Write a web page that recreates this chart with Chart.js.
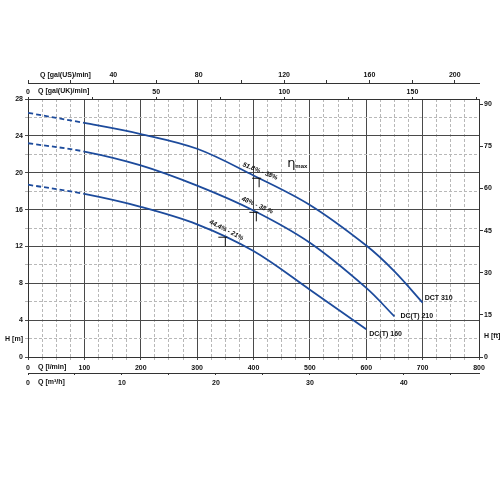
<!DOCTYPE html>
<html>
<head>
<meta charset="utf-8">
<script src="https://cdn.jsdelivr.net/npm/chart.js@4.4.1/dist/chart.umd.min.js"></script>
<style>
  html, body { margin: 0; padding: 0; background: #fff; }
  #wrap { width: 500px; height: 500px; }
</style>
</head>
<body>
<div id="wrap"><canvas id="pumpChart"></canvas></div>
<script>
// PUMP CURVES - flow in l/min, head in m

const flowDct310 = [0, 100, 200, 300, 400, 500, 600, 650, 700];
const headDct310 = [26.5, 25.4, 24.2, 22.6, 19.7, 16.5, 12.1, 9.3, 5.9];
const flowDc210 = [0, 100, 200, 300, 400, 500, 600, 650];
const headDc210 = [23.2, 22.3, 20.8, 18.6, 15.9, 12.4, 7.5, 4.4];
const flowDc160 = [0, 100, 200, 300, 400, 500, 600];
const headDc160 = [18.7, 17.7, 16.3, 14.4, 11.5, 7.3, 3.0];
const curveNames = ['DCT 310', 'DC(T) 210', 'DC(T) 160'];

// best efficiency marks on each curve
const effFlow = [410, 405, 350];
const effHead = [19.4, 15.7, 13.0];
const effText = ['51.8% - 38%', '48% - 38 %', '44.4% - 21%'];

// tick labels of the different axes
const lpmLabels = [0, 100, 200, 300, 400, 500, 600, 700, 800];
const m3hLabels = [0, 10, 20, 30, 40];
const usLabels = [40, 80, 120, 160, 200];
const ukLabels = [0, 50, 100, 150];
const headLabels = [0, 4, 8, 12, 16, 20, 24, 28];
const ftLabels = [0, 15, 30, 45, 60, 75, 90];

// unit conversions (all secondary axes follow l/min and m)
const LPM_MAX = 800;
const H_MAX = 28;
const usGalMax = LPM_MAX / 3.78541;
const ukGalMax = LPM_MAX / 4.54609;
const m3hMax = LPM_MAX / 16.6667;
const ftMax = H_MAX * 3.28084;

const BLUE = '#1d4b9c';
const FONT = { family: '"Liberation Sans", Arial, sans-serif', size: 7, weight: 'bold' };

function toPoints(xs, ys) {
  return xs.map((q, i) => ({ x: q, y: ys[i] }));
}

function curve(xs, ys) {
  return {
    data: toPoints(xs, ys),
    borderColor: BLUE,
    borderWidth: 1.8,
    pointRadius: 0,
    tension: 0.35,
    fill: false,
    xAxisID: 'x',
    yAxisID: 'y',
    segment: {
      // start of the curves is dashed
      borderDash: c => c.p0.parsed.x < 100 ? [5, 3] : undefined
    }
  };
}

// major lines solid, minor lines dashed and light
function gridColor(step) {
  return c => (c.tick && Math.abs(c.tick.value % step) < 1e-6) ? '#4a4a4a' : '#b8b8b8';
}
function gridDash(step) {
  return c => (c.tick && Math.abs(c.tick.value % step) > 1e-6) ? [3, 2] : [];
}
function labelFrom(list) {
  return v => list.includes(v) ? String(v) : '';
}

// extra texts: axis names, curve names, efficiency marks
const extraText = {
  id: 'extraText',
  afterDraw(chart) {
    const { ctx, scales } = chart;
    const x = scales.x, y = scales.y;
    ctx.save();
    ctx.fillStyle = '#111';
    ctx.strokeStyle = '#111';
    ctx.font = 'bold 7px "Liberation Sans", Arial, sans-serif';
    ctx.textBaseline = 'middle';
    ctx.textAlign = 'left';

    ctx.fillText('Q [gal(US)/min]', x.left + 12, scales.xUs.bottom - 8);
    ctx.fillText('Q [gal(UK)/min]', x.left + 10, scales.xUk.bottom - 7.5);
    ctx.fillText('Q [l/min]', x.left + 10, x.top + 10.5);
    ctx.fillText('Q [m\u00b3/h]', x.left + 10, scales.xM3h.top + 9.5);

    // curve names at the end of each curve
    const ends = [
      [flowDct310, headDct310, 2, -5],
      [flowDc210, headDc210, 6, 0],
      [flowDc160, headDc160, 3, 5]
    ];
    ends.forEach((e, i) => {
      const n = e[0].length - 1;
      const px = x.getPixelForValue(e[0][n]);
      const py = y.getPixelForValue(e[1][n]);
      ctx.fillText(curveNames[i], px + e[2], py + e[3]);
    });

    // efficiency marks
    const angles = [22, 24, 27];
    effFlow.forEach((q, i) => {
      const px = x.getPixelForValue(q);
      const py = y.getPixelForValue(effHead[i]);
      ctx.lineWidth = 1;
      ctx.beginPath();
      ctx.moveTo(px - 7, py);
      ctx.lineTo(px + 2, py);
      ctx.moveTo(px, py);
      ctx.lineTo(px, py + 9);
      ctx.stroke();
      ctx.save();
      ctx.translate(px + 1, py - 7);
      ctx.rotate(angles[i] * Math.PI / 180);
      ctx.textAlign = 'center';
      ctx.font = 'italic bold 6.5px "Liberation Sans", Arial, sans-serif';
      ctx.fillText(effText[i], 0, 0);
      ctx.restore();
    });

    // eta max
    const ex = x.getPixelForValue(460);
    const ey = y.getPixelForValue(21);
    ctx.font = '13px "DejaVu Sans", sans-serif';
    ctx.fillText('\u03b7', ex, ey);
    ctx.font = 'bold 6px "Liberation Sans", Arial, sans-serif';
    ctx.fillText('max', ex + 8, ey + 3);
    ctx.restore();
  }
};

const whiteBg = {
  id: 'whiteBg',
  beforeDraw(chart) {
    const ctx = chart.ctx;
    ctx.save();
    ctx.fillStyle = '#fff';
    ctx.fillRect(0, 0, chart.width, chart.height);
    ctx.restore();
  }
};

var ctx = document.getElementById('pumpChart').getContext('2d');
var pumpChart = new Chart(ctx, {
  type: 'line',
  data: {
    datasets: [
      curve(flowDct310, headDct310),
      curve(flowDc210, headDc210),
      curve(flowDc160, headDc160)
    ]
  },
  options: {
    responsive: true,
    maintainAspectRatio: false,
    animation: false,
    layout: {
      padding: { top: 70, bottom: 110, left: 0, right: 0 }
    },
    plugins: {
      legend: { display: false },
      tooltip: { enabled: false }
    },
    scales: {
      x: {
        type: 'linear', position: 'bottom', weight: 0,
        min: 0, max: LPM_MAX,
        ticks: { stepSize: 25, autoSkip: false, maxRotation: 0, padding: 4, color: '#111', font: FONT, callback: labelFrom(lpmLabels) },
        grid: { color: gridColor(100), tickLength: 3, lineWidth: 1 },
        border: { color: '#333', width: 1, dash: gridDash(100) },
        afterFit: s => { s.height = 16; }
      },
      xM3h: {
        type: 'linear', position: 'bottom', weight: 1,
        min: 0, max: m3hMax,
        ticks: { stepSize: 5, includeBounds: false, autoSkip: false, maxRotation: 0, padding: 4, color: '#111', font: FONT, callback: labelFrom(m3hLabels) },
        grid: { drawOnChartArea: false, tickLength: 2, color: '#333' },
        border: { color: '#333', width: 1 },
        afterFit: s => { s.height = 17; }
      },
      xUk: {
        type: 'linear', position: 'top', weight: 0,
        min: 0, max: ukGalMax,
        ticks: { stepSize: 25, includeBounds: false, autoSkip: false, maxRotation: 0, padding: 1, color: '#111', font: FONT, callback: labelFrom(ukLabels) },
        grid: { drawOnChartArea: false, tickLength: 2, color: '#333' },
        border: { color: '#333', width: 1 },
        afterFit: s => { s.height = 16; }
      },
      xUs: {
        type: 'linear', position: 'top', weight: 1,
        min: 0, max: usGalMax,
        ticks: { stepSize: 20, includeBounds: false, autoSkip: false, maxRotation: 0, padding: 1, color: '#111', font: FONT, callback: labelFrom(usLabels) },
        grid: { drawOnChartArea: false, tickLength: 3, color: '#333' },
        border: { color: '#333', width: 1 },
        afterFit: s => { s.height = 13; }
      },
      y: {
        type: 'linear', position: 'left',
        min: 0, max: H_MAX,
        ticks: {
          stepSize: 2, autoSkip: false, padding: 2, color: '#111', font: FONT,
          callback: v => v === 2 ? 'H [m]' : (headLabels.includes(v) ? String(v) : '')
        },
        grid: { color: gridColor(4), tickLength: 3, lineWidth: 1 },
        border: { color: '#333', width: 1, dash: gridDash(4) },
        afterFit: s => { s.width = 28; }
      },
      yFt: {
        type: 'linear', position: 'right',
        min: 0, max: ftMax,
        ticks: {
          stepSize: 7.5, includeBounds: false, autoSkip: false, padding: 1, color: '#111', font: FONT,
          callback: v => v === 7.5 ? 'H [ft]' : (ftLabels.includes(v) ? String(v) : '')
        },
        grid: {
          drawOnChartArea: false, tickLength: 4,
          color: c => (c.tick && c.tick.value % 15 === 0) ? '#333' : 'rgba(0,0,0,0)'
        },
        border: { color: '#333', width: 1 },
        afterFit: s => { s.width = 21; }
      }
    }
  },
  plugins: [whiteBg, extraText]
});
</script>
</body>
</html>
